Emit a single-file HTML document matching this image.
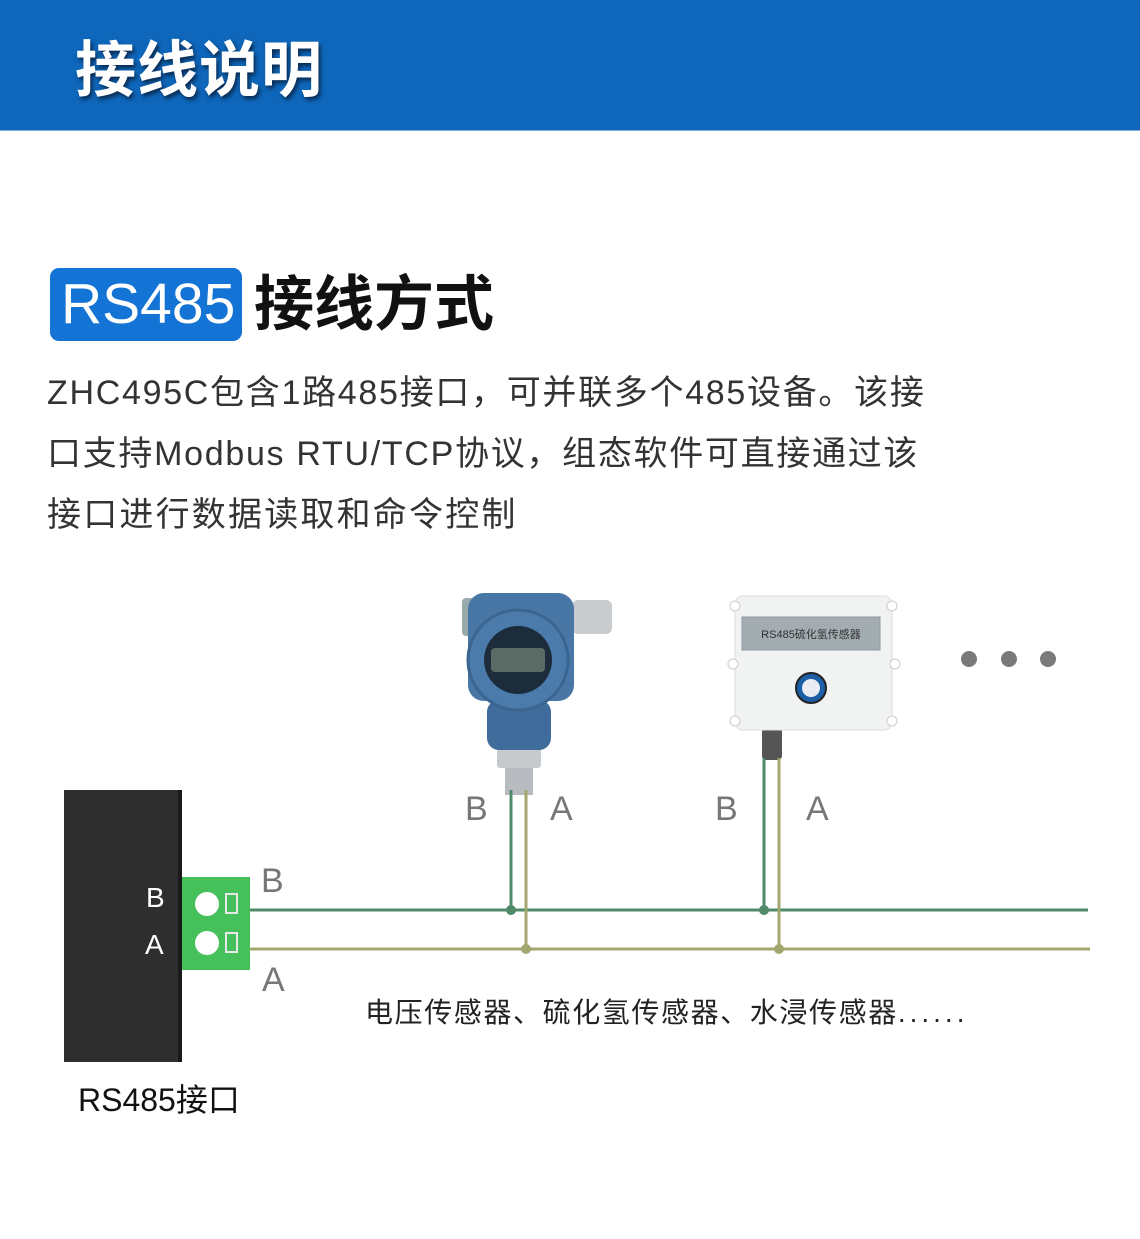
<!DOCTYPE html>
<html><head><meta charset="utf-8"><style>
body{margin:0;width:1140px;height:1239px;background:#fff;position:relative;overflow:hidden;font-family:"Liberation Sans","Noto Sans CJK SC",sans-serif}
.a{position:absolute;white-space:nowrap}
</style></head><body>
<div class="a" style="left:0;top:0;width:1140px;height:130px;background:#0e67bb;border-bottom:1px solid #7fb0e0"></div>
<div class="a" style="left:75px;top:30px;font-size:61px;font-weight:bold;color:#fff;line-height:80px;letter-spacing:1px;text-shadow:2px 3px 4px #0a2a50">接线说明</div>
<div class="a" style="left:50px;top:268px;width:192px;height:73px;background:#1474d6;border-radius:9px"></div>
<div class="a" style="left:61px;top:268px;font-size:57px;color:#fff;line-height:73px">RS485</div>
<div class="a" style="left:254px;top:266px;font-size:60px;font-weight:bold;color:#111;line-height:78px">接线方式</div>
<div class="a" style="left:47px;top:363px;font-size:34px;color:#333;line-height:61px;letter-spacing:1.7px">ZHC495C包含1路485接口，可并联多个485设备。该接<br>口支持Modbus RTU/TCP协议，组态软件可直接通过该<br><span style="letter-spacing:2.2px">接口进行数据读取和命令控制</span></div>

<svg class="a" style="left:0;top:0" width="1140" height="1239">
<rect x="505" y="765" width="28" height="30" fill="#b8bcc0"/>
<rect x="497" y="748" width="44" height="20" rx="3" fill="#c7cacd"/>
<rect x="487" y="700" width="64" height="50" rx="12" fill="#3f6c9a"/>
<rect x="572" y="600" width="40" height="34" rx="6" fill="#c9cccf"/>
<rect x="462" y="598" width="12" height="38" rx="4" fill="#9aa"/>
<rect x="468" y="593" width="106" height="108" rx="16" fill="#4877a6"/>
<circle cx="518" cy="660" r="50" fill="#4a7bab" stroke="#3a6590" stroke-width="3"/>
<circle cx="518" cy="660" r="34" fill="#1d2c3b"/>
<rect x="491" y="648" width="54" height="24" rx="4" fill="#5b6a64"/>
<rect x="762" y="728" width="20" height="32" rx="4" fill="#555"/>
<rect x="735" y="596" width="157" height="134" rx="8" fill="#f1f2f2" stroke="#dcdedf"/>
<circle cx="735" cy="606" r="5" fill="#fff" stroke="#ccc"/><circle cx="892" cy="606" r="5" fill="#fff" stroke="#ccc"/>
<circle cx="733" cy="664" r="5" fill="#fff" stroke="#ccc"/><circle cx="895" cy="664" r="5" fill="#fff" stroke="#ccc"/>
<circle cx="735" cy="721" r="5" fill="#fff" stroke="#ccc"/><circle cx="892" cy="721" r="5" fill="#fff" stroke="#ccc"/>
<rect x="742" y="617" width="138" height="33" fill="#a2acb1" stroke="#909a9f"/>
<text x="811" y="638" font-size="11" text-anchor="middle" fill="#333" font-family="Liberation Sans,Noto Sans CJK SC,sans-serif">RS485硫化氢传感器</text>
<circle cx="811" cy="688" r="15" fill="#1d5ea8" stroke="#222" stroke-width="2"/>
<circle cx="811" cy="688" r="9" fill="#e9edf1"/>
<circle cx="969" cy="659" r="8" fill="#7a7a7a"/><circle cx="1009" cy="659" r="8" fill="#7a7a7a"/><circle cx="1048" cy="659" r="8" fill="#7a7a7a"/>
<g stroke-width="3" fill="none">
<line x1="250" y1="910" x2="1088" y2="910" stroke="#4f8a6a"/>
<line x1="250" y1="949" x2="1090" y2="949" stroke="#a3a66f"/>
<line x1="511" y1="790" x2="511" y2="910" stroke="#4f8a6a"/>
<line x1="526" y1="790" x2="526" y2="949" stroke="#a3a66f"/>
<line x1="764" y1="758" x2="764" y2="910" stroke="#4f8a6a"/>
<line x1="779" y1="758" x2="779" y2="949" stroke="#a3a66f"/>
</g>
<circle cx="511" cy="910" r="5" fill="#4f8a6a"/><circle cx="764" cy="910" r="5" fill="#4f8a6a"/>
<circle cx="526" cy="949" r="5" fill="#a3a66f"/><circle cx="779" cy="949" r="5" fill="#a3a66f"/>
<rect x="64" y="790" width="118" height="272" fill="#2e2e2e"/>
<rect x="178" y="790" width="4" height="272" fill="#1a1a1a"/>
<rect x="182" y="877" width="68" height="93" fill="#45c05a"/>
<circle cx="207" cy="904" r="12" fill="#fff"/><circle cx="207" cy="943" r="12" fill="#fff"/>
<rect x="226" y="894" width="11" height="19" fill="none" stroke="#e8e8e8" stroke-width="2"/>
<rect x="226" y="933" width="11" height="19" fill="none" stroke="#e8e8e8" stroke-width="2"/>
<g font-family="Liberation Sans,sans-serif" fill="#fff" font-size="28"><text x="146" y="907">B</text><text x="145" y="954">A</text></g>
<g font-family="Liberation Sans,sans-serif" fill="#777" font-size="34">
<text x="261" y="892">B</text><text x="262" y="991">A</text>
<text x="465" y="820">B</text><text x="550" y="820">A</text>
<text x="715" y="820">B</text><text x="806" y="820">A</text></g>
</svg>
<div class="a" style="left:365px;top:993px;font-size:28px;color:#222;line-height:40px;letter-spacing:1.6px">电压传感器、硫化氢传感器、水浸传感器<span style="letter-spacing:4px">......</span></div>
<div class="a" style="left:78px;top:1080px;font-size:32px;color:#111;line-height:40px">RS485接口</div>
</body></html>
